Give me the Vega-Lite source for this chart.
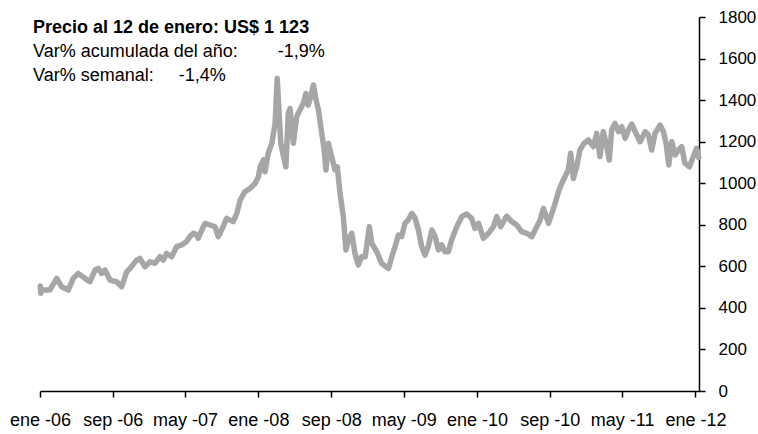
{
  "$schema": "https://vega.github.io/schema/vega-lite/v6.json",
  "width": 659,
  "height": 374,
  "autosize": {"type": "none"},
  "padding": {"left": 40, "top": 17, "right": 59, "bottom": 43},
  "background": "white",
  "config": {
    "view": {"stroke": null},
    "font": "Liberation Sans",
    "axis": {
      "grid": false,
      "domainColor": "black",
      "domainWidth": 1.5,
      "tickColor": "black",
      "tickWidth": 1.5,
      "tickSize": 6,
      "labelColor": "black",
      "labelFont": "Liberation Sans",
      "labelFontSize": 18,
      "title": null
    }
  },
  "title": {
    "text": "Precio al 12 de enero: US$ 1 123",
    "subtitle": [
      "Var% acumulada del año:\u00a0\u00a0\u00a0\u00a0\u00a0\u00a0\u00a0\u00a0-1,9%",
      "Var% semanal:\u00a0\u00a0\u00a0\u00a0\u00a0-1,4%"
    ],
    "anchor": "start",
    "frame": "group",
    "orient": "top",
    "offset": -77,
    "dx": -7,
    "font": "Liberation Sans",
    "fontSize": 18,
    "fontWeight": "bold",
    "color": "black",
    "subtitleFont": "Liberation Sans",
    "subtitleFontSize": 18,
    "subtitleFontWeight": "normal",
    "subtitleColor": "black",
    "subtitleLineHeight": 24,
    "subtitlePadding": 6
  },
  "data": {
    "values": [
      {"fecha": "2006-01-02", "precio": 505},
      {"fecha": "2006-01-04", "precio": 470},
      {"fecha": "2006-01-06", "precio": 486},
      {"fecha": "2006-02-03", "precio": 486},
      {"fecha": "2006-02-26", "precio": 542},
      {"fecha": "2006-03-14", "precio": 502},
      {"fecha": "2006-04-06", "precio": 486},
      {"fecha": "2006-04-22", "precio": 542},
      {"fecha": "2006-05-09", "precio": 566},
      {"fecha": "2006-05-31", "precio": 542},
      {"fecha": "2006-06-17", "precio": 526},
      {"fecha": "2006-07-04", "precio": 582},
      {"fecha": "2006-07-15", "precio": 590},
      {"fecha": "2006-07-26", "precio": 566},
      {"fecha": "2006-08-06", "precio": 582},
      {"fecha": "2006-08-23", "precio": 534},
      {"fecha": "2006-09-14", "precio": 526},
      {"fecha": "2006-10-01", "precio": 502},
      {"fecha": "2006-10-18", "precio": 574},
      {"fecha": "2006-10-29", "precio": 590},
      {"fecha": "2006-11-20", "precio": 630},
      {"fecha": "2006-12-01", "precio": 638},
      {"fecha": "2006-12-18", "precio": 598},
      {"fecha": "2007-01-04", "precio": 622},
      {"fecha": "2007-01-20", "precio": 614},
      {"fecha": "2007-02-06", "precio": 646},
      {"fecha": "2007-02-17", "precio": 630},
      {"fecha": "2007-02-28", "precio": 662},
      {"fecha": "2007-03-17", "precio": 646},
      {"fecha": "2007-04-03", "precio": 695},
      {"fecha": "2007-04-20", "precio": 703},
      {"fecha": "2007-05-06", "precio": 719},
      {"fecha": "2007-05-17", "precio": 743},
      {"fecha": "2007-05-29", "precio": 759},
      {"fecha": "2007-06-09", "precio": 751},
      {"fecha": "2007-06-14", "precio": 735},
      {"fecha": "2007-06-26", "precio": 775},
      {"fecha": "2007-07-07", "precio": 807},
      {"fecha": "2007-07-23", "precio": 799},
      {"fecha": "2007-08-09", "precio": 791},
      {"fecha": "2007-08-20", "precio": 743},
      {"fecha": "2007-08-31", "precio": 775},
      {"fecha": "2007-09-17", "precio": 831},
      {"fecha": "2007-10-09", "precio": 815},
      {"fecha": "2007-10-21", "precio": 855},
      {"fecha": "2007-11-01", "precio": 919},
      {"fecha": "2007-11-17", "precio": 959},
      {"fecha": "2007-12-04", "precio": 975},
      {"fecha": "2007-12-21", "precio": 999},
      {"fecha": "2008-01-01", "precio": 1031},
      {"fecha": "2008-01-07", "precio": 1079},
      {"fecha": "2008-01-18", "precio": 1112},
      {"fecha": "2008-01-23", "precio": 1055},
      {"fecha": "2008-02-03", "precio": 1144},
      {"fecha": "2008-02-15", "precio": 1192},
      {"fecha": "2008-02-26", "precio": 1288},
      {"fecha": "2008-03-04", "precio": 1505},
      {"fecha": "2008-03-11", "precio": 1320},
      {"fecha": "2008-03-16", "precio": 1192},
      {"fecha": "2008-03-25", "precio": 1128},
      {"fecha": "2008-04-02", "precio": 1079},
      {"fecha": "2008-04-10", "precio": 1336},
      {"fecha": "2008-04-16", "precio": 1360},
      {"fecha": "2008-04-21", "precio": 1272},
      {"fecha": "2008-04-27", "precio": 1192},
      {"fecha": "2008-05-08", "precio": 1320},
      {"fecha": "2008-05-19", "precio": 1352},
      {"fecha": "2008-05-30", "precio": 1384},
      {"fecha": "2008-06-08", "precio": 1432},
      {"fecha": "2008-06-16", "precio": 1376},
      {"fecha": "2008-06-24", "precio": 1416},
      {"fecha": "2008-07-03", "precio": 1473},
      {"fecha": "2008-07-12", "precio": 1400},
      {"fecha": "2008-07-20", "precio": 1352},
      {"fecha": "2008-07-31", "precio": 1240},
      {"fecha": "2008-08-08", "precio": 1160},
      {"fecha": "2008-08-14", "precio": 1064},
      {"fecha": "2008-08-22", "precio": 1192},
      {"fecha": "2008-09-02", "precio": 1128},
      {"fecha": "2008-09-13", "precio": 1064},
      {"fecha": "2008-09-21", "precio": 1079},
      {"fecha": "2008-09-30", "precio": 951},
      {"fecha": "2008-10-11", "precio": 839},
      {"fecha": "2008-10-20", "precio": 679},
      {"fecha": "2008-10-28", "precio": 727},
      {"fecha": "2008-11-08", "precio": 759},
      {"fecha": "2008-11-19", "precio": 662},
      {"fecha": "2008-11-30", "precio": 606},
      {"fecha": "2008-12-11", "precio": 646},
      {"fecha": "2008-12-23", "precio": 646},
      {"fecha": "2009-01-06", "precio": 791},
      {"fecha": "2009-01-14", "precio": 711},
      {"fecha": "2009-01-31", "precio": 670},
      {"fecha": "2009-02-16", "precio": 614},
      {"fecha": "2009-03-11", "precio": 590},
      {"fecha": "2009-03-22", "precio": 646},
      {"fecha": "2009-04-02", "precio": 695},
      {"fecha": "2009-04-13", "precio": 751},
      {"fecha": "2009-04-24", "precio": 743},
      {"fecha": "2009-05-05", "precio": 807},
      {"fecha": "2009-05-16", "precio": 823},
      {"fecha": "2009-05-28", "precio": 855},
      {"fecha": "2009-06-08", "precio": 831},
      {"fecha": "2009-06-19", "precio": 775},
      {"fecha": "2009-06-30", "precio": 695},
      {"fecha": "2009-07-11", "precio": 654},
      {"fecha": "2009-07-22", "precio": 695},
      {"fecha": "2009-08-03", "precio": 775},
      {"fecha": "2009-08-14", "precio": 743},
      {"fecha": "2009-08-25", "precio": 679},
      {"fecha": "2009-09-05", "precio": 703},
      {"fecha": "2009-09-16", "precio": 670},
      {"fecha": "2009-09-27", "precio": 670},
      {"fecha": "2009-10-08", "precio": 727},
      {"fecha": "2009-10-25", "precio": 791},
      {"fecha": "2009-11-11", "precio": 839},
      {"fecha": "2009-11-27", "precio": 852},
      {"fecha": "2009-12-14", "precio": 831},
      {"fecha": "2009-12-25", "precio": 783},
      {"fecha": "2010-01-06", "precio": 807},
      {"fecha": "2010-01-22", "precio": 735},
      {"fecha": "2010-02-08", "precio": 759},
      {"fecha": "2010-02-25", "precio": 791},
      {"fecha": "2010-03-08", "precio": 839},
      {"fecha": "2010-03-21", "precio": 791},
      {"fecha": "2010-04-10", "precio": 842},
      {"fecha": "2010-04-27", "precio": 815},
      {"fecha": "2010-05-14", "precio": 799},
      {"fecha": "2010-05-30", "precio": 767},
      {"fecha": "2010-06-16", "precio": 759},
      {"fecha": "2010-07-03", "precio": 743},
      {"fecha": "2010-07-14", "precio": 775},
      {"fecha": "2010-07-31", "precio": 823},
      {"fecha": "2010-08-11", "precio": 879},
      {"fecha": "2010-08-28", "precio": 807},
      {"fecha": "2010-09-08", "precio": 855},
      {"fecha": "2010-09-19", "precio": 903},
      {"fecha": "2010-09-30", "precio": 959},
      {"fecha": "2010-10-11", "precio": 999},
      {"fecha": "2010-10-22", "precio": 1031},
      {"fecha": "2010-11-02", "precio": 1064},
      {"fecha": "2010-11-10", "precio": 1144},
      {"fecha": "2010-11-19", "precio": 1023},
      {"fecha": "2010-11-30", "precio": 1079},
      {"fecha": "2010-12-11", "precio": 1160},
      {"fecha": "2010-12-25", "precio": 1192},
      {"fecha": "2011-01-08", "precio": 1208},
      {"fecha": "2011-01-25", "precio": 1176},
      {"fecha": "2011-02-05", "precio": 1240},
      {"fecha": "2011-02-16", "precio": 1128},
      {"fecha": "2011-02-27", "precio": 1248},
      {"fecha": "2011-03-11", "precio": 1176},
      {"fecha": "2011-03-19", "precio": 1112},
      {"fecha": "2011-03-27", "precio": 1256},
      {"fecha": "2011-04-07", "precio": 1288},
      {"fecha": "2011-04-19", "precio": 1248},
      {"fecha": "2011-04-30", "precio": 1272},
      {"fecha": "2011-05-11", "precio": 1216},
      {"fecha": "2011-05-22", "precio": 1256},
      {"fecha": "2011-06-02", "precio": 1285},
      {"fecha": "2011-06-19", "precio": 1232},
      {"fecha": "2011-06-30", "precio": 1200},
      {"fecha": "2011-07-17", "precio": 1248},
      {"fecha": "2011-07-28", "precio": 1232},
      {"fecha": "2011-08-08", "precio": 1160},
      {"fecha": "2011-08-19", "precio": 1240},
      {"fecha": "2011-09-05", "precio": 1280},
      {"fecha": "2011-09-16", "precio": 1248},
      {"fecha": "2011-09-25", "precio": 1192},
      {"fecha": "2011-10-04", "precio": 1088},
      {"fecha": "2011-10-14", "precio": 1200},
      {"fecha": "2011-10-25", "precio": 1136},
      {"fecha": "2011-11-05", "precio": 1160},
      {"fecha": "2011-11-16", "precio": 1176},
      {"fecha": "2011-11-27", "precio": 1096},
      {"fecha": "2011-12-12", "precio": 1079},
      {"fecha": "2011-12-25", "precio": 1128},
      {"fecha": "2012-01-05", "precio": 1168},
      {"fecha": "2012-01-12", "precio": 1123}
    ]
  },
  "mark": {"type": "line", "color": "#A6A6A6", "strokeWidth": 5.5, "strokeCap": "round", "strokeJoin": "round"},
  "encoding": {
    "x": {
      "field": "fecha",
      "type": "temporal",
      "scale": {"domain": [{"year": 2006, "month": 1, "date": 1}, {"year": 2012, "month": 1, "date": 13}], "nice": false},
      "axis": {
        "orient": "bottom",
        "values": [
          {"year": 2006, "month": 1, "date": 1},
          {"year": 2006, "month": 9, "date": 1},
          {"year": 2007, "month": 5, "date": 1},
          {"year": 2008, "month": 1, "date": 1},
          {"year": 2008, "month": 9, "date": 1},
          {"year": 2009, "month": 5, "date": 1},
          {"year": 2010, "month": 1, "date": 1},
          {"year": 2010, "month": 9, "date": 1},
          {"year": 2011, "month": 5, "date": 1},
          {"year": 2012, "month": 1, "date": 1}
        ],
        "labelExpr": "['ene','feb','mar','abr','may','jun','jul','ago','sep','oct','nov','dic'][month(datum.value)] + ' -' + timeFormat(datum.value, '%y')",
        "labelFlush": false,
        "labelOverlap": false,
        "labelPadding": 14
      }
    },
    "y": {
      "field": "precio",
      "type": "quantitative",
      "scale": {"domain": [0, 1800], "nice": false},
      "axis": {
        "orient": "right",
        "values": [0, 200, 400, 600, 800, 1000, 1200, 1400, 1600, 1800],
        "format": "d",
        "labelAlign": "left",
        "labelFontSize": 17,
        "labelPadding": 13,
        "labelFlush": false,
        "labelOverlap": false
      }
    }
  }
}
